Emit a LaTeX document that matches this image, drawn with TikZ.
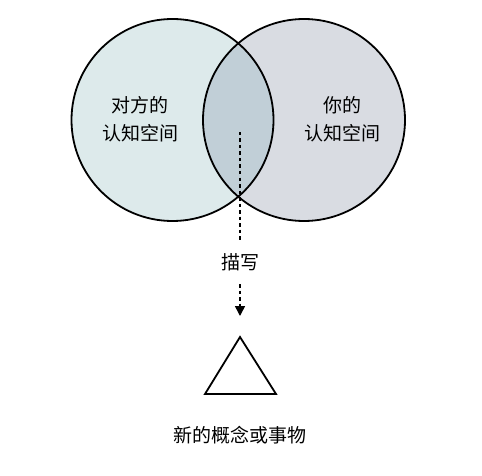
\documentclass[tikz,border=0pt]{standalone}
\usepackage{fontspec}
\setmainfont{Noto Sans CJK SC}
\usetikzlibrary{arrows.meta}
\definecolor{leftfill}{HTML}{DDEAEB}
\definecolor{rightfill}{HTML}{D9DCE2}
\definecolor{overlapfill}{HTML}{C1CFD7}
\tikzset{
  lbl/.style={font=\fontsize{19pt}{28pt}\selectfont, align=center, inner sep=0pt},
  ring/.style={draw=black, line width=1.8pt},
  dotted link/.style={draw=black, line width=1.6pt, dash pattern=on 3.5pt off 3pt},
}
\begin{document}
\begin{tikzpicture}[x=1pt,y=-1pt]
\useasboundingbox (0,0) rectangle (482,476);
\fill[white] (0,0) rectangle (482,476);
% circles
\fill[leftfill] (172.5,120) circle (101);
\fill[rightfill] (304,120) circle (101);
\begin{scope}
  \clip (172.5,120) circle (101);
  \fill[overlapfill] (304,120) circle (101);
\end{scope}
\node[ring, circle, minimum size=202pt, inner sep=0pt] (L) at (172.5,120) {};
\node[ring, circle, minimum size=202pt, inner sep=0pt] (R) at (304,120) {};
% labels
\node[lbl] (lt) at (140,119) {对方的\\认知空间};
\node[lbl] (rt) at (342,119) {你的\\认知空间};
\coordinate (s) at (240,132);
\coordinate (e1) at (240,240);
\coordinate (a0) at (240,284);
\coordinate (a1) at (240,316);
\node[lbl] (d) at (240,262) {描写};
\coordinate (t1) at (240,337);
\coordinate (t2) at (276,394);
\coordinate (t3) at (205,394);
\draw[black, line width=1.8pt, line join=miter] (t1) -- (t2) -- (t3) -- cycle;
\node[lbl] (b) at (240,435) {新的概念或事物};
\draw[dotted link] (s) -- (e1);
\draw[dotted link, -{Triangle[length=10pt,width=10pt]}] (a0) -- (a1);
\end{tikzpicture}
\end{document}
